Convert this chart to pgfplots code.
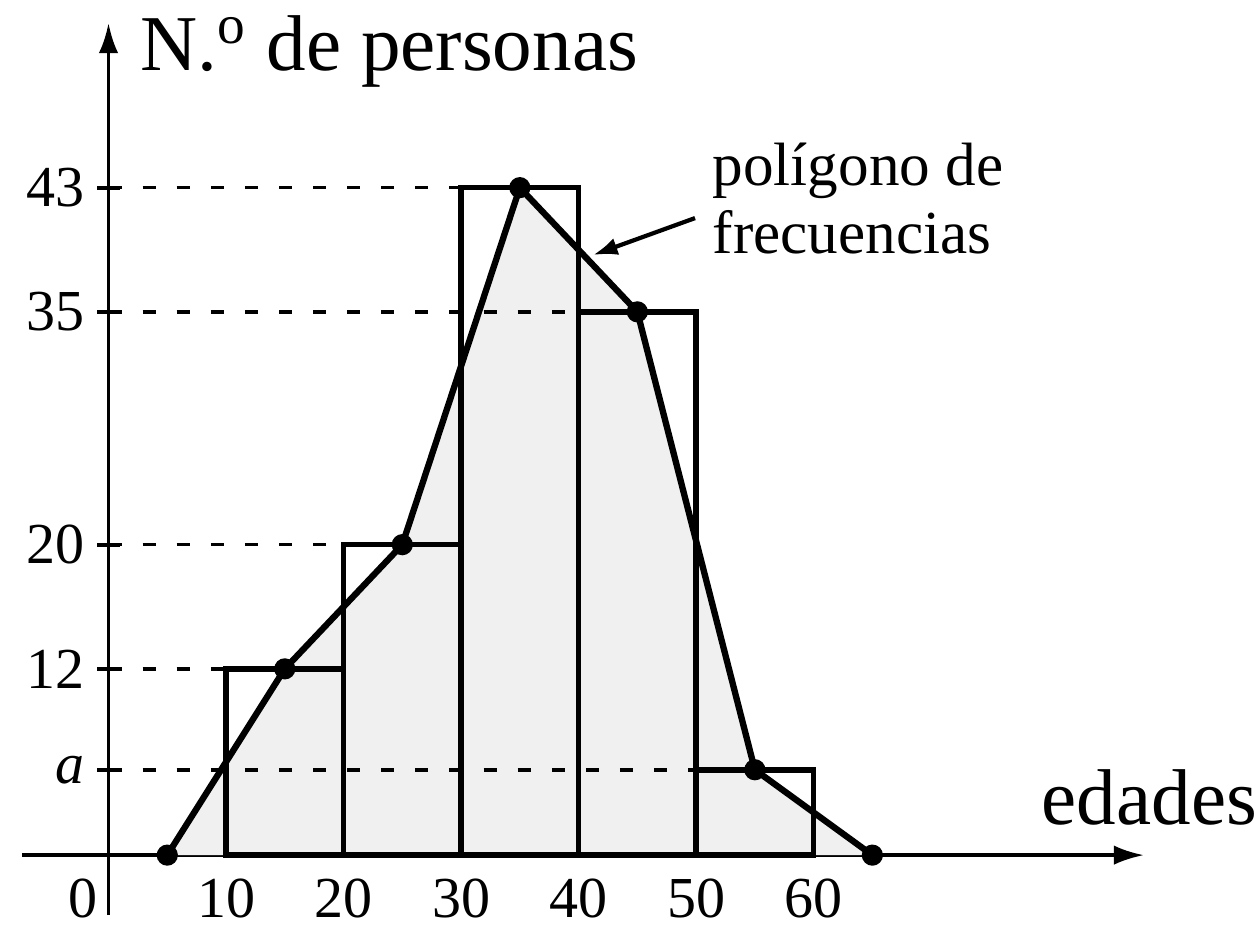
\documentclass[border=0pt]{standalone}
\usepackage{fontspec}
\setmainfont{Liberation Serif}
\usepackage{pgfplots}
\pgfplotsset{compat=1.18}
\usetikzlibrary{arrows.meta}
\begin{document}
\begin{tikzpicture}
\begin{axis}[
  x=0.1175cm, y=0.1552cm,
  xmin=-7.36, xmax=88.1, ymin=-3.87, ymax=53.6,
  axis lines=middle,
  axis line style={line width=1pt, -{Latex[length=8.5pt,width=5.5pt]}},
  every inner x axis line/.append style={-{Latex[length=8.5pt,width=5.5pt]}},
  every inner y axis line/.append style={-{Latex[length=8.5pt,width=5.5pt]}},
  clip=false,
  xtick={10,20,30,40,50,60},
  ytick={5.5,12,20,35,43},
  yticklabels={\textit{a},12,20,35,43},
  xtick style={draw opacity=0},
  ytick style={draw=black, draw opacity=1, line width=1.1pt},
  tick align=center,
  major tick length=0.23cm,
  /pgf/number format/assume math mode=true,
  ticklabel style={font=\fontsize{16.5}{18}\selectfont, text=black},
]
% shaded area under the frequency polygon
\addplot[draw=none, fill=black!6] coordinates {(5,0) (15,12) (25,20) (35,43) (45,35) (55,5.5) (65,0)} -- cycle;
% dashed reference lines
\addplot[black, line width=1pt, dash pattern=on 3.7pt off 6pt] coordinates {(0,43) (30,43)};
\addplot[black, line width=1pt, dash pattern=on 3.7pt off 6pt] coordinates {(0,35) (40,35)};
\addplot[black, line width=1pt, dash pattern=on 3.7pt off 6pt] coordinates {(0,20) (20,20)};
\addplot[black, line width=1pt, dash pattern=on 3.7pt off 6pt] coordinates {(0,12) (10,12)};
\addplot[black, line width=1pt, dash pattern=on 3.7pt off 6pt] coordinates {(0,5.5) (50,5.5)};
% histogram
\addplot[ybar interval, draw=black, fill=none, line width=1.6pt] coordinates {(10,12) (20,20) (30,43) (40,35) (50,5.5) (60,5.5)};
% frequency polygon
\addplot[black, line width=1.8pt, mark=*, mark size=2.1pt, mark options={solid, fill=black}] coordinates {(5,0) (15,12) (25,20) (35,43) (45,35) (55,5.5) (65,0)};
% labels
\node[anchor=base west, inner sep=0pt, font=\fontsize{22.5}{24}\selectfont] at (axis cs:2.68,50.58) {N.\textsuperscript{o} de personas};
\node[anchor=base west, inner sep=0pt, font=\fontsize{22.5}{24}\selectfont] at (axis cs:79.36,2.0) {edades};
\node[anchor=base west, inner sep=0pt, font=\fontsize{17.4}{19}\selectfont] at (axis cs:51.36,43.17) {polígono de};
\node[anchor=base west, inner sep=0pt, font=\fontsize{17.4}{19}\selectfont] at (axis cs:51.36,38.79) {frecuencias};
\draw[line width=1.2pt, -{Latex[length=7pt,width=5pt]}] (axis cs:49.91,41.04) -- (axis cs:41.23,38.66);
\node[inner sep=0pt, font=\fontsize{16.5}{18}\selectfont] at (axis cs:-2.17,-2.77) {0};
\path (axis cs:-9.234,-4.317) rectangle (axis cs:97.9,55.09);
\end{axis}
\end{tikzpicture}
\end{document}
